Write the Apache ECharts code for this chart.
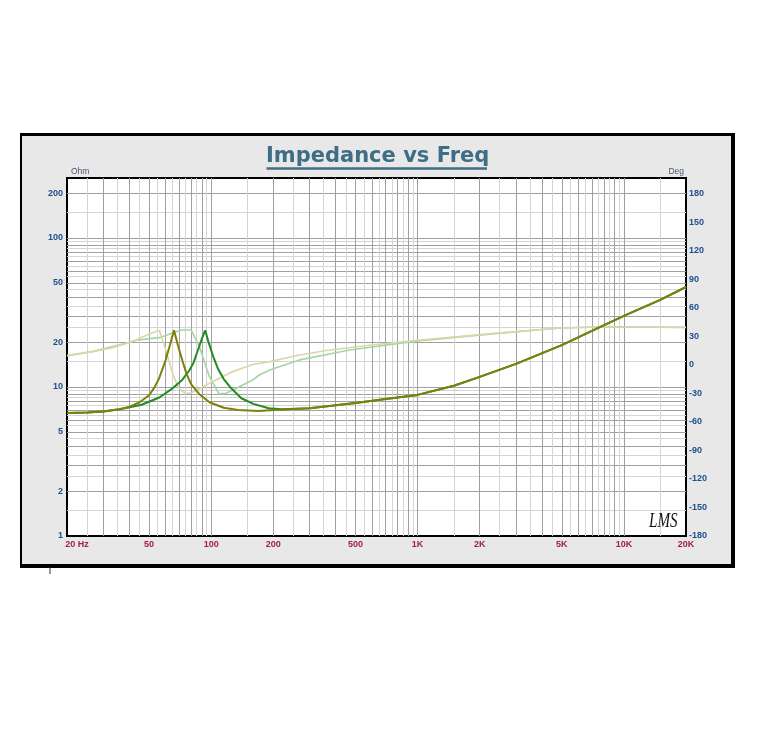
<!DOCTYPE html>
<html><head><meta charset="utf-8">
<script src="https://cdn.jsdelivr.net/npm/echarts@6/dist/echarts.min.js"></script>
<style>html,body{margin:0;padding:0;background:#fff}#c{width:763px;height:756px}</style>
</head><body><div id="c"></div>
<script>
// ---- tick labels / grid values ----
const freqLabels = [20, 50, 100, 200, 500, 1000, 2000, 5000, 10000, 20000];
const freqLabelText = ['20 Hz', '50', '100', '200', '500', '1K', '2K', '5K', '10K', '20K'];
const freqMajorLines = [30, 40, 50, 60, 70, 80, 90, 100, 200, 300, 400, 500, 600, 700, 800, 900, 1000,
  2000, 3000, 4000, 5000, 6000, 7000, 8000, 9000, 10000];
const freqMinorLines = [25, 35, 45, 55, 65, 75, 85, 95, 150, 250, 350, 450, 550, 650, 750, 850, 950,
  1500, 2500, 3500, 4500, 5500, 6500, 7500, 8500, 9500, 15000];
const ohmLabels = [1, 2, 5, 10, 20, 50, 100, 200];
const ohmMajorLines = [2, 3, 4, 5, 6, 7, 8, 9, 10, 20, 30, 40, 50, 60, 70, 80, 90, 100, 200];
const ohmMinorLines = [1.5, 2.5, 3.5, 4.5, 5.5, 6.5, 7.5, 8.5, 9.5, 15, 25, 35, 45, 55, 65, 75, 85, 95, 150];
const degLabels = [-180, -150, -120, -90, -60, -30, 0, 30, 60, 90, 120, 150, 180];
const ohmRange = [1, 252.7];
const degRange = [-180, 196.8];

// ---- series values [Hz, value] ----
const impedanceHF = [[300, 7.2], [500, 7.8], [700, 8.3], [1000, 8.85], [1500, 10.2], [2000, 11.7],
  [3000, 14.3], [5000, 19.1], [7000, 23.8], [10000, 30.0], [15000, 38.4], [20000, 46.9]];
const impedanceA = [[20, 6.7], [25, 6.75], [30, 6.85], [35, 7.05], [40, 7.35], [45, 7.9], [50, 8.8],
  [53, 9.9], [56, 11.5], [60, 15.0], [63, 19.0], [66, 24.0], [69, 19.0], [72.5, 15.0], [76, 12.2],
  [80, 10.4], [88, 8.9], [98, 7.9], [115, 7.25], [135, 7.0], [170, 6.9], [200, 7.0]];
const impedanceB = [[20, 6.7], [25, 6.75], [30, 6.85], [36, 7.1], [46, 7.6], [56, 8.5], [65, 9.8],
  [72.5, 11.2], [78, 12.8], [82, 14.5], [86, 17.5], [90, 21.0], [93.5, 24.0], [97, 20.0], [102, 16.2],
  [108, 13.2], [115, 11.3], [125, 9.8], [140, 8.4], [160, 7.7], [190, 7.2], [220, 7.1]];
const phaseA = [[20, 9.8], [26.5, 14], [33, 18], [38.6, 22.8], [43.2, 26.3], [50, 32.6], [56, 36.5],
  [60, 16.8], [65, -8.7], [69.3, -24.2], [75, -30], [80.4, -29.2], [98, -19.3], [127, -7], [159, 0.5],
  [192, 3.5], [268, 10.5], [375, 15.8], [600, 21], [1030, 26.3], [2520, 33.7], [4930, 38.9],
  [7700, 40], [12000, 40], [20000, 39.5]];
const phaseB = [[20, 9.8], [26.5, 14], [38.6, 22.8], [43.2, 26.0], [56, 28.7], [71.4, 36.8], [80, 36.8],
  [87.7, 19.3], [98, -12.3], [109, -30.5], [118, -29.8], [127.3, -26.3], [159, -15.8], [171, -10.5],
  [192, -5.3], [268, 5.3], [470, 15.8], [1000, 25.3], [2520, 33.5], [4930, 38.9], [7700, 40],
  [12000, 40], [20000, 39.5]];

const chart = echarts.init(document.getElementById('c'), null, {renderer: 'canvas'});
const labelFont = {fontFamily: 'Arial', fontWeight: 'bold', fontSize: 9};
const noTick = (vals) => ({show: false, customValues: vals});

chart.setOption({
  animation: false,
  backgroundColor: '#ffffff',
  title: {
    text: 'Impedance vs Freq', left: 266, top: 146, padding: 0,
    textStyle: {fontFamily: 'DejaVu Sans', fontWeight: 'bold', fontSize: 21, color: '#3e6d86'}
  },
  graphic: [
    {type: 'rect', z: -100, shape: {x: 20, y: 133, width: 715, height: 435}, style: {fill: '#000'}},
    {type: 'rect', z: -99, shape: {x: 22, y: 136, width: 709, height: 428}, style: {fill: '#e8e8e8'}},
    {type: 'line', z: -98, shape: {x1: 50, y1: 567, x2: 50, y2: 574}, style: {stroke: '#333', lineWidth: 1}},
    {type: 'line', z: 10, shape: {x1: 266.5, y1: 168.5, x2: 487, y2: 168.5}, style: {stroke: '#3e6d86', lineWidth: 2.6}},
    {type: 'text', z: 10, x: 649, y: 511, scaleX: 0.72,
      style: {text: 'LMS', fill: '#111', font: 'italic 21px "Liberation Serif"'}}
  ],
  grid: {left: 67, right: 77, top: 178, bottom: 220, show: true, backgroundColor: '#ffffff',
    borderColor: '#000', borderWidth: 2, containLabel: false},
  xAxis: [
    {type: 'log', logBase: 10, min: 20, max: 20000, position: 'bottom',
      axisLine: {show: false}, axisTick: noTick(freqMinorLines), axisLabel: {show: false},
      splitLine: {show: true, lineStyle: {color: '#d4d4d4', width: 1}}},
    {type: 'log', logBase: 10, min: 20, max: 20000, position: 'bottom',
      axisLine: {show: false}, axisTick: noTick(freqMajorLines),
      splitLine: {show: true, lineStyle: {color: '#a0a0a0', width: 1}},
      axisLabel: Object.assign({
        customValues: freqLabels, margin: 4, color: '#a31a55',
        formatter: function (v) {
          for (let i = 0; i < freqLabels.length; i++) {
            if (Math.abs(v / freqLabels[i] - 1) < 1e-6) return i === 0 ? '{hz|' + freqLabelText[0] + '}' : freqLabelText[i];
          }
          return '';
        },
        rich: {hz: Object.assign({padding: [0, 0, 0, 20], color: '#a31a55'}, labelFont)}
      }, labelFont)}
  ],
  yAxis: [
    {type: 'log', logBase: 10, min: ohmRange[0], max: ohmRange[1], position: 'left',
      axisLine: {show: false}, axisTick: noTick(ohmMinorLines), axisLabel: {show: false},
      splitLine: {show: true, lineStyle: {color: '#d4d4d4', width: 1}}},
    {type: 'log', logBase: 10, min: ohmRange[0], max: ohmRange[1], position: 'left',
      name: 'Ohm', nameLocation: 'end', nameGap: 6,
      nameTextStyle: {align: 'left', verticalAlign: 'middle', fontFamily: 'Arial', fontSize: 8.5, color: '#4a5870', padding: [0, 0, 0, 4]},
      axisLine: {show: false}, axisTick: noTick(ohmMajorLines),
      splitLine: {show: true, lineStyle: {color: '#a0a0a0', width: 1}},
      axisLabel: Object.assign({customValues: ohmLabels, margin: 4, color: '#1f4e8c',
        formatter: (v) => String(Math.round(v))}, labelFont)},
    {type: 'value', min: degRange[0], max: degRange[1], position: 'right',
      name: 'Deg', nameLocation: 'end', nameGap: 6,
      nameTextStyle: {align: 'right', verticalAlign: 'middle', fontFamily: 'Arial', fontSize: 8.5, color: '#4a5870', padding: [0, 2, 0, 0]},
      axisLine: {show: false}, axisTick: {show: false}, splitLine: {show: false},
      axisLabel: Object.assign({customValues: degLabels, margin: 3, color: '#1f4e8c',
        formatter: (v) => String(Math.round(v))}, labelFont)}
  ],
  series: [
    {type: 'line', name: 'phase B', xAxisIndex: 1, yAxisIndex: 2, data: phaseB, showSymbol: false,
      lineStyle: {color: '#a6d6a6', width: 1.7}},
    {type: 'line', name: 'phase A', xAxisIndex: 1, yAxisIndex: 2, data: phaseA, showSymbol: false,
      lineStyle: {color: '#d8d8aa', width: 1.7}},
    {type: 'line', name: 'impedance B', xAxisIndex: 1, yAxisIndex: 1, data: impedanceB.concat(impedanceHF), showSymbol: false,
      lineStyle: {color: '#228b22', width: 2}},
    {type: 'line', name: 'impedance A', xAxisIndex: 1, yAxisIndex: 1, data: impedanceA.concat(impedanceHF), showSymbol: false,
      lineStyle: {color: '#7f7f0a', width: 2}}
  ]
});
</script></body></html>
